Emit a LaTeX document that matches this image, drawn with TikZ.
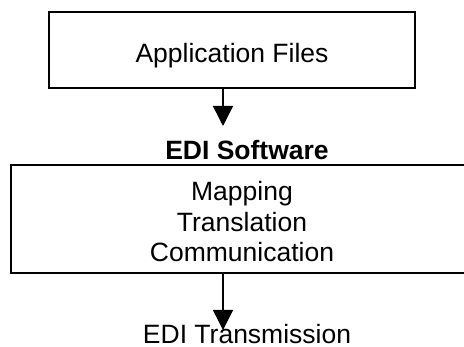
\documentclass[tikz,border=0pt]{standalone}
\usepackage{fontspec}
\setmainfont{Liberation Sans}
\usetikzlibrary{arrows.meta}
\begin{document}
\begin{tikzpicture}[x=1pt,y=-1pt,
  boxstyle/.style={draw=black,line width=1.4pt,inner sep=0pt},
  txt/.style={font=\fontsize{26.5}{30.5}\selectfont,inner sep=0pt,align=center},
  flow/.style={line width=1.4pt,-{Triangle[width=20pt,length=20pt]}}]
\useasboundingbox (0,0) rectangle (464,347);
\node[boxstyle,minimum width=366pt,minimum height=76pt] (app) at (232,50) {};
\node[txt,anchor=base] (apptxt) at (232,63) {Application Files};
\node[txt,anchor=base,font=\fontsize{26.5}{30.5}\selectfont\bfseries] (edisw) at (247,160) {EDI Software};
\node[boxstyle,minimum width=455pt,minimum height=108pt] (soft) at (238.5,219) {};
\node[txt] (softtxt) at (242,222) {Mapping\\Translation\\Communication};
\node[txt,anchor=base] (trans) at (247,344) {EDI Transmission};
\coordinate (tip1) at (223,126);
\coordinate (tip2) at (223,330);
\draw[flow] (app.south -| tip1) -- (tip1);
\draw[flow] (soft.south -| tip2) -- (tip2);
\end{tikzpicture}
\end{document}
